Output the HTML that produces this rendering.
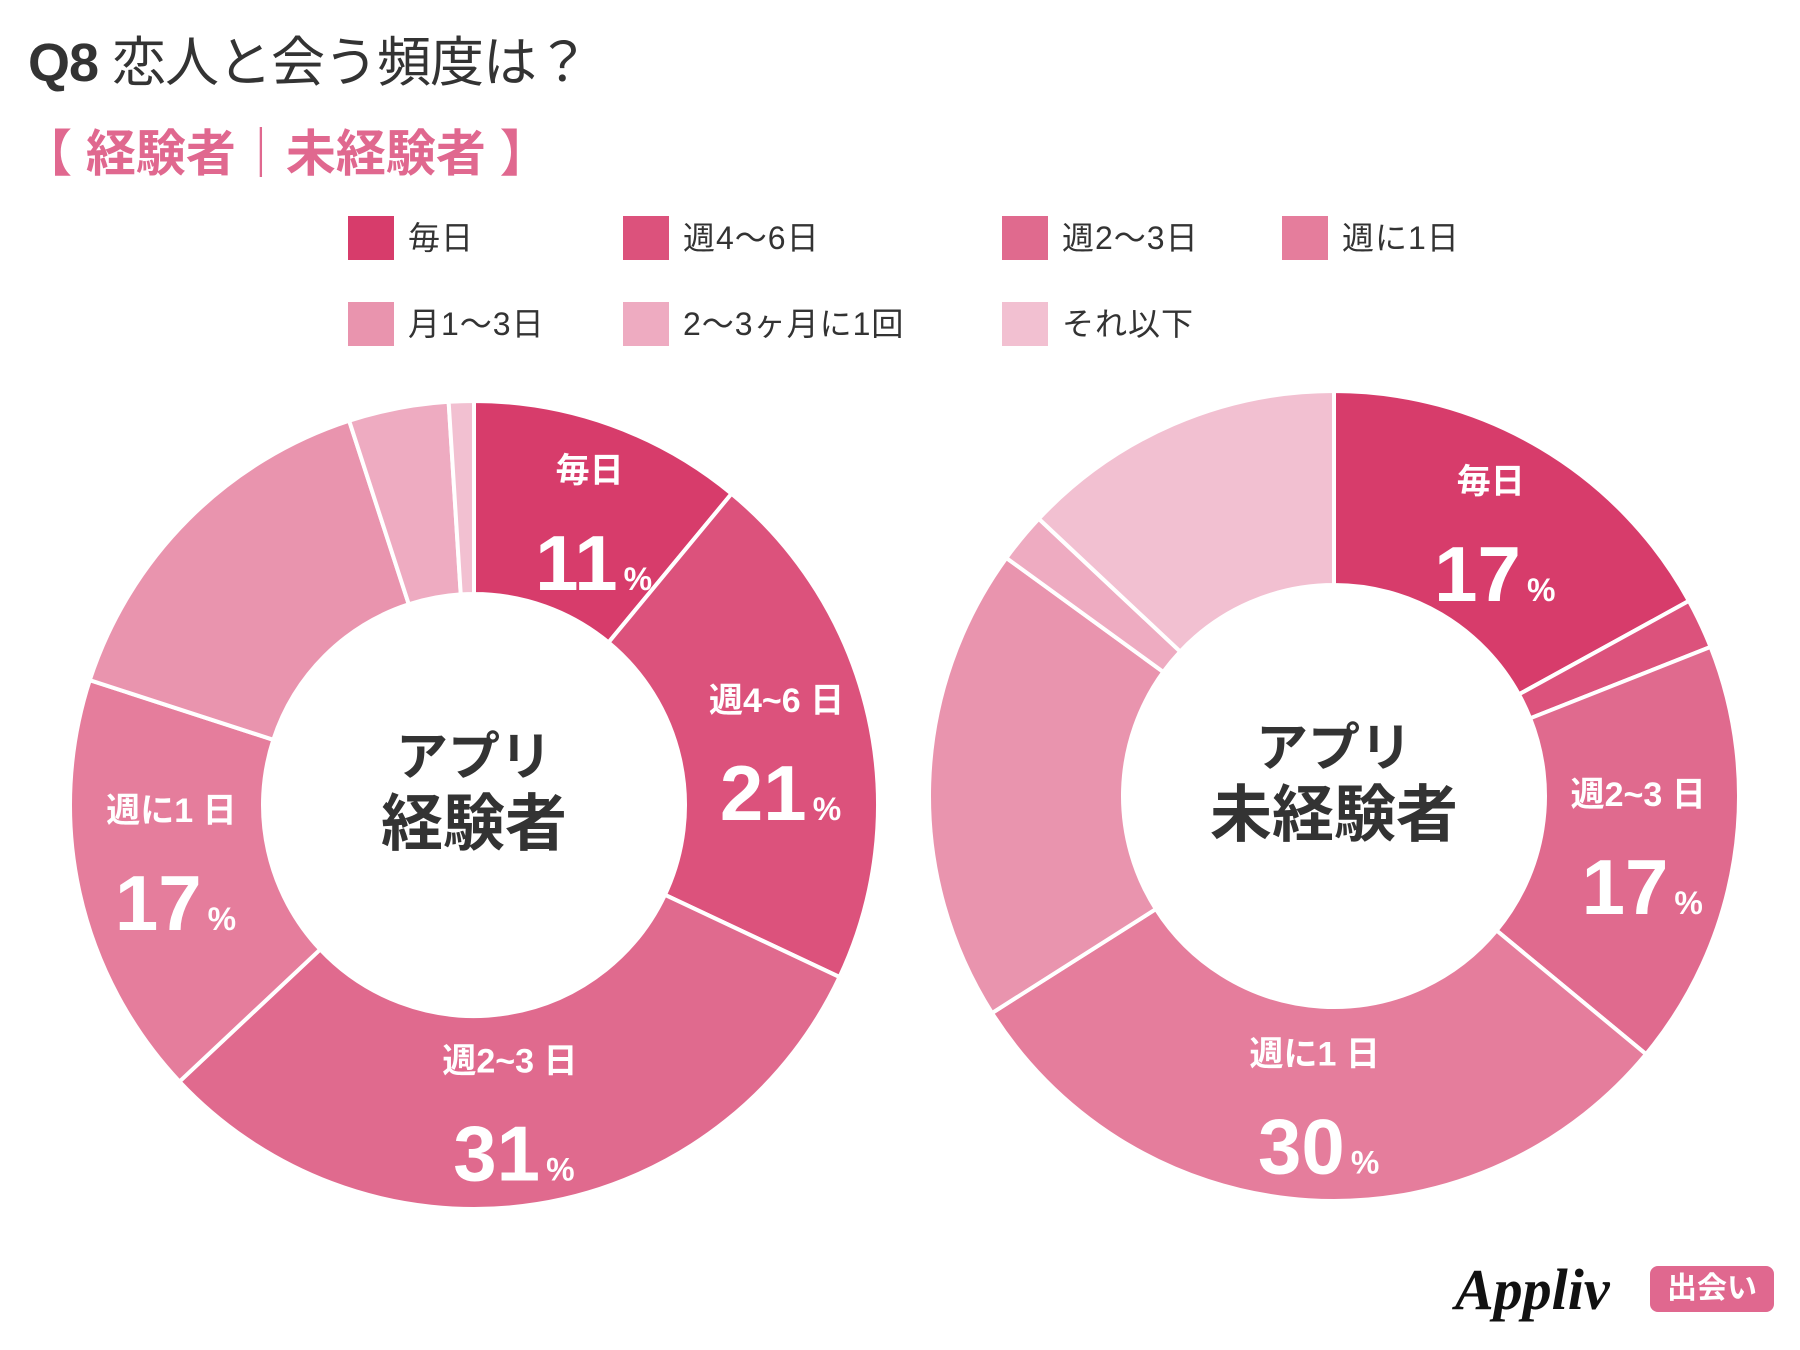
<!DOCTYPE html>
<html><head><meta charset="utf-8"><style>
body{margin:0;background:#fff;}
#root{position:relative;width:1800px;height:1350px;overflow:hidden;background:#fff;font-family:"Liberation Sans","Noto Sans CJK JP",sans-serif;}
.t{position:absolute;white-space:nowrap;}
.lg{position:absolute;width:46px;height:44px;}
.lt{position:absolute;font-size:32px;color:#333;line-height:44px;letter-spacing:1px;}
</style></head><body>
<div id="root">
<div class="t" style="left:28px;top:18px;font-size:54px;color:#333;font-weight:bold;letter-spacing:-1px;">Q8 <span style="font-weight:normal">恋人と会う頻度は？</span></div>
<div class="t" style="left:22px;top:114px;font-size:50px;color:#e0688f;font-weight:bold;">【 経験者｜未経験者 】</div>
<div id="legend"></div>
<svg id="svg" width="1800" height="1350" style="position:absolute;left:0;top:0"></svg>
<div class="t" style="left:1455px;top:1256px;font-family:'Liberation Serif',serif;font-style:italic;font-weight:bold;font-size:58px;color:#111;">Appliv</div>
<div class="t" style="left:1650px;top:1266px;width:124px;height:46px;background:#e0688f;border-radius:8px;color:#fff;font-size:30px;font-weight:bold;text-align:center;line-height:46px;">出会い</div>
</div>
<script>
const categories=["毎日","週4〜6日","週2〜3日","週に1日","月1〜3日","2〜3ヶ月に1回","それ以下"];
const colors=["#d73c6b","#dc527c","#e06a8e","#e57d9c","#e994ae","#eeabc1","#f2c0d1"];
const experiencedValues=[11,21,31,17,15,4,1];
const inexperiencedValues=[17,2,17,30,19,2,13];
const experiencedLabels=[["毎日","11"],["週4~6 日","21"],["週2~3 日","31"],["週に1 日","17"],null,null,null];
const inexperiencedLabels=[["毎日","17"],null,["週2~3 日","17"],["週に1 日","30"],null,null,null];

const legendCols=[348,623,1002,1282];
const lg=document.getElementById('legend');
categories.forEach((c,i)=>{
  const x=legendCols[i%4], y=i<4?216:302;
  const b=document.createElement('div');
  b.className='lg';b.style.left=x+'px';b.style.top=y+'px';b.style.background=colors[i];
  
  
  lg.appendChild(b);
  const t=document.createElement('div');
  t.className='lt';t.style.left=(x+60)+'px';t.style.top=y+'px';t.textContent=c;
  
  
  lg.appendChild(t);
});

const NS='http://www.w3.org/2000/svg';
const svg=document.getElementById('svg');
function pt(cx,cy,r,a){return [cx+r*Math.sin(a),cy-r*Math.cos(a)];}
function donut(cx,cy,R,r,values,labels,center,name,angShift){
  const total=values.reduce((a,b)=>a+b,0);
  let acc=0;
  values.forEach((v,i)=>{
    const a0=acc/total*2*Math.PI; acc+=v; const a1=acc/total*2*Math.PI;
    const lf=(a1-a0)>Math.PI?1:0;
    const p0=pt(cx,cy,R,a0),p1=pt(cx,cy,R,a1),q1=pt(cx,cy,r,a1),q0=pt(cx,cy,r,a0);
    const p=document.createElementNS(NS,'path');
    p.setAttribute('d',`M${p0[0]},${p0[1]}A${R},${R} 0 ${lf} 1 ${p1[0]},${p1[1]}L${q1[0]},${q1[1]}A${r},${r} 0 ${lf} 0 ${q0[0]},${q0[1]}Z`);
    p.setAttribute('fill',colors[i]);p.setAttribute('stroke','#fff');p.setAttribute('stroke-width','4');
    
    
    svg.appendChild(p);
    if(labels[i]){
      const am=(a0+a1)/2+angShift, m=pt(cx,cy,(R+r)/2,am);
      const t1=document.createElementNS(NS,'text');
      t1.setAttribute('x',m[0]);t1.setAttribute('y',m[1]-38);t1.setAttribute('text-anchor','middle');
      t1.setAttribute('font-size','34');t1.setAttribute('font-weight','bold');t1.setAttribute('fill','#fff');
      t1.textContent=labels[i][0];
      
      
      svg.appendChild(t1);
      const t2=document.createElementNS(NS,'text');
      t2.setAttribute('x',m[0]+4);t2.setAttribute('y',m[1]+70);t2.setAttribute('text-anchor','middle');
      t2.setAttribute('font-size','78');t2.setAttribute('font-weight','bold');t2.setAttribute('fill','#fff');
      t2.textContent=labels[i][1];
      const ts=document.createElementNS(NS,'tspan');ts.setAttribute('font-size','32');ts.setAttribute('dx','6');ts.textContent='%';
      t2.appendChild(ts);
      
      
      svg.appendChild(t2);
    }
  });
  center.forEach((s,k)=>{
    const t=document.createElementNS(NS,'text');
    t.setAttribute('x',cx);t.setAttribute('y',cy-30+k*70);t.setAttribute('text-anchor','middle');
    t.setAttribute('font-size',k==0?'52':'62');t.setAttribute('font-weight','bold');t.setAttribute('fill','#333');
    t.textContent=s;
    
    
    svg.appendChild(t);
  });
}
donut(474,805,404,211,experiencedValues,experiencedLabels,["アプリ","経験者"],'experienced',0.04);
donut(1334,796,405,211,inexperiencedValues,inexperiencedLabels,["アプリ","未経験者"],'inexperienced',0);
</script>
</body></html>
